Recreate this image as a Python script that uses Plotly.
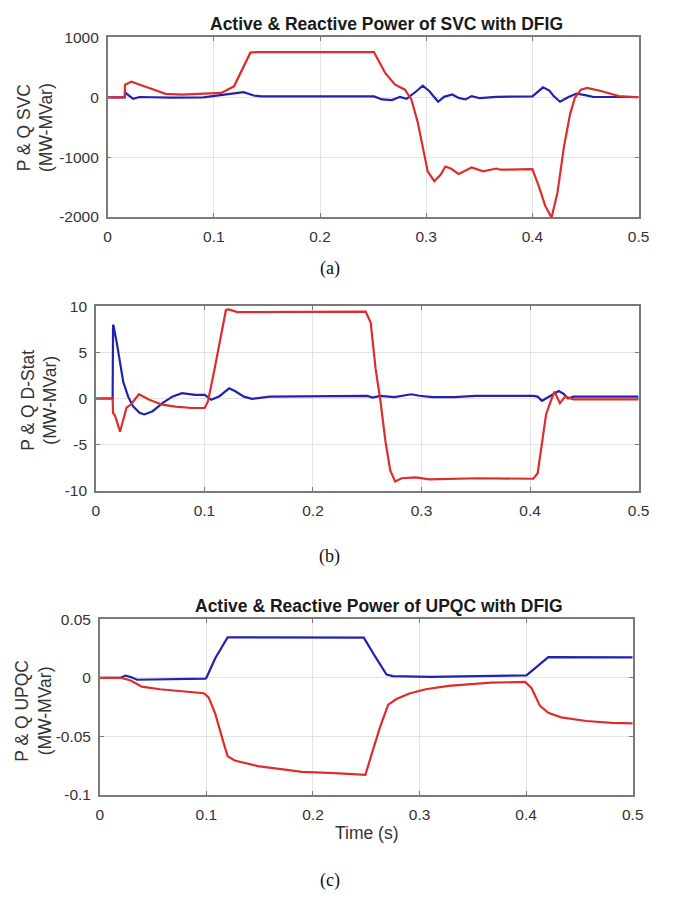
import plotly.graph_objects as go

W, H = 676, 899

# ---------------- data ----------------
x_ticks = [0, 0.1, 0.2, 0.3, 0.4, 0.5]
x_tick_labels = ["0", "0.1", "0.2", "0.3", "0.4", "0.5"]

# (a) SVC
svc_y_ticks = [-2000, -1000, 0, 1000]
svc_y_labels = ["-2000", "-1000", "0", "1000"]
svc_p_t = [0, 0.0160, 0.0163, 0.0224, 0.039, 0.0546, 0.070, 0.1007, 0.107, 0.119, 0.125, 0.1344, 0.14,
           0.2508, 0.2615, 0.2707, 0.28, 0.286, 0.292, 0.2968, 0.3014, 0.3076, 0.3137, 0.318, 0.3232,
           0.3306, 0.3428, 0.3536, 0.366, 0.370, 0.398, 0.400, 0.406, 0.412, 0.418, 0.4236, 0.4297,
           0.4355, 0.44, 0.4457, 0.4516, 0.4655, 0.4814, 0.5]
svc_p_v = [0, 0, 210, 260, 155, 57, 46, 74, 74, 183, 400, 746, 755,
           755, 402, 210, 128, -36, -418, -855, -1238, -1402, -1292, -1156, -1190,
           -1281, -1172, -1238, -1190, -1210, -1200, -1200, -1484, -1811, -2010, -1593, -828,
           -281, -8, 128, 156, 101, 20, 0]
svc_q_t = [0, 0.0160, 0.0168, 0.024, 0.03, 0.06, 0.09, 0.1007, 0.11, 0.128, 0.1375, 0.145,
           0.2508, 0.2584, 0.2677, 0.2753, 0.2815, 0.2907, 0.2968, 0.303, 0.3112, 0.3168, 0.3245,
           0.3306, 0.337, 0.3428, 0.3505, 0.366, 0.38, 0.40, 0.41, 0.416, 0.42, 0.426, 0.434,
           0.4417, 0.4497, 0.4576, 0.5]
svc_q_v = [0, 0, 75, -25, 5, -5, 0, 30, 46, 85, 30, 15,
           15, -36, -46, 8, -25, 101, 194, 101, -74, 8, 46,
           -10, -36, 20, -15, 8, 15, 15, 167, 113, 20, -74, 5,
           62, 36, 5, 5]

# (b) D-Stat
ds_y_ticks = [-10, -5, 0, 5, 10]
ds_y_labels = ["-10", "-5", "0", "5", "10"]
ds_p_t = [0, 0.0154, 0.0158, 0.0177, 0.0222, 0.0252, 0.0282, 0.0327, 0.0396, 0.0492, 0.0613, 0.0733,
          0.0883, 0.1003, 0.1033, 0.1093, 0.1153, 0.1198, 0.1225, 0.1303, 0.2486, 0.2532, 0.2577,
          0.2622, 0.2667, 0.2712, 0.2757, 0.2817, 0.295, 0.3072, 0.3523, 0.403, 0.407, 0.411,
          0.4148, 0.42, 0.4225, 0.4275, 0.4323, 0.44, 0.5]
ds_p_v = [0, 0, -1.56, -1.9, -3.6, -2.3, -1.0, -0.6, 0.46, -0.14, -0.67, -0.89,
          -1.03, -1.03, -0.3, 3.2, 7.1, 9.6, 9.65, 9.36, 9.43, 8.2, 3.2,
          -0.3, -4.6, -7.8, -9.0, -8.65, -8.55, -8.76, -8.65, -8.7, -8.1, -4.6,
          -1.7, 0.0, 0.75, -0.5, 0.2, -0.1, -0.1]
ds_q_t = [0, 0.0154, 0.0158, 0.0162, 0.0192, 0.0222, 0.0252, 0.0297, 0.0342, 0.0402, 0.0447,
          0.0523, 0.0613, 0.0703, 0.0793, 0.0913, 0.1003, 0.1063, 0.1138, 0.1228, 0.1288, 0.1363,
          0.1438, 0.16, 0.25, 0.255, 0.262, 0.275, 0.2907, 0.298, 0.31, 0.33, 0.35, 0.403, 0.407,
          0.411, 0.417, 0.4225, 0.4264, 0.431, 0.435, 0.44, 0.5]
ds_q_v = [0, 0, 8.0, 7.9, 6.06, 3.9, 1.8, 0.2, -0.85, -1.56, -1.73,
          -1.38, -0.5, 0.2, 0.57, 0.39, 0.39, -0.14, 0.25, 1.1, 0.75, 0.2,
          -0.03, 0.2, 0.28, 0.1, 0.28, 0.14, 0.46, 0.3, 0.14, 0.14, 0.28, 0.28, 0.2,
          -0.25, 0.2, 0.57, 0.82, 0.5, 0.0, 0.2, 0.2]

# (c) UPQC
up_y_ticks = [-0.1, -0.05, 0, 0.05]
up_y_labels = ["-0.1", "-0.05", "0", "0.05"]
up_p_t = [0, 0.0196, 0.029, 0.0333, 0.0394, 0.0563, 0.0716, 0.0976, 0.1021, 0.1083, 0.1144, 0.1199,
          0.1266, 0.148, 0.1755, 0.1896, 0.2202, 0.2492, 0.2554, 0.263, 0.2706, 0.2783, 0.2905,
          0.3058, 0.3272, 0.3456, 0.367, 0.399, 0.405, 0.413, 0.4208, 0.4328, 0.4565, 0.4803, 0.5]
up_p_v = [0, 0, -0.0023, -0.0042, -0.0076, -0.0098, -0.0112, -0.0132, -0.0168, -0.0307, -0.0503, -0.067,
          -0.0707, -0.0754, -0.0787, -0.0804, -0.0815, -0.0829, -0.0642, -0.0419, -0.023, -0.0182, -0.0134,
          -0.0098, -0.007, -0.0056, -0.0042, -0.0035, -0.0087, -0.024, -0.030, -0.0338, -0.0369, -0.0385, -0.039]
up_q_t = [0, 0.0196, 0.024, 0.029, 0.0349, 0.06, 0.0991, 0.1, 0.1083, 0.1199, 0.2477, 0.2584,
          0.269, 0.275, 0.31, 0.37, 0.4003, 0.4208, 0.5]
up_q_v = [0, 0, 0.0019, 0.0006, -0.0017, -0.0014, -0.0008, 0, 0.0167, 0.0345, 0.0343, 0.018,
          0.0028, 0.0014, 0.0008, 0.0017, 0.0020, 0.0176, 0.0175]

# ---------------- styling ----------------
RED = "#dd2c2c"
BLUE = "#2222b0"
AXC = "#7a7a7a"
GRID = "#e3e3e3"
TICKC = "#333333"
SANS = "Liberation Sans, Arial, sans-serif"
SERIF = "Liberation Serif, Times New Roman, serif"

def px_x(x):
    return x / W

def px_y(y):
    return 1 - y / H

panels = [
    # left, right, top, bottom (pixels)
    dict(box=(106, 649, 29, 212), yr=[-2000, 1000], yt=svc_y_ticks, yl=svc_y_labels,
         p=(svc_p_t, svc_p_v), q=(svc_q_t, svc_q_v)),
    dict(box=(94, 649, 303, 491), yr=[-10, 10], yt=ds_y_ticks, yl=ds_y_labels,
         p=(ds_p_t, ds_p_v), q=(ds_q_t, ds_q_v)),
    dict(box=(98, 643, 622, 801), yr=[-0.1, 0.05], yt=up_y_ticks, yl=up_y_labels,
         p=(up_p_t, up_p_v), q=(up_q_t, up_q_v)),
]

fig = go.Figure()
layout = dict(
    width=W, height=H, margin=dict(l=0, r=0, t=0, b=0),
    paper_bgcolor="white", plot_bgcolor="white", showlegend=False,
)

for i, pn in enumerate(panels, start=1):
    l, r, t, b = pn["box"]
    xa = "x" if i == 1 else f"x{i}"
    ya = "y" if i == 1 else f"y{i}"
    fig.add_trace(go.Scatter(x=pn["q"][0], y=pn["q"][1], mode="lines",
                             line=dict(color=BLUE, width=2.2), xaxis=xa, yaxis=ya))
    fig.add_trace(go.Scatter(x=pn["p"][0], y=pn["p"][1], mode="lines",
                             line=dict(color=RED, width=2.2), xaxis=xa, yaxis=ya))
    common = dict(showline=True, linecolor=AXC, linewidth=1.5, mirror="ticks",
                  ticks="inside", ticklen=4, tickcolor=AXC, tickwidth=1,
                  showgrid=True, gridcolor=GRID, gridwidth=1, zeroline=False,
                  tickfont=dict(family=SANS, size=15.5, color=TICKC), tickmode="array")
    layout["xaxis" if i == 1 else f"xaxis{i}"] = dict(
        common, domain=[px_x(l), px_x(r)], range=[0, 0.5],
        tickvals=x_ticks, ticktext=x_tick_labels, ticklabelstandoff=5,
        anchor=ya)
    layout["yaxis" if i == 1 else f"yaxis{i}"] = dict(
        common, domain=[px_y(b), px_y(t)], range=pn["yr"],
        tickvals=pn["yt"], ticktext=pn["yl"], ticklabelstandoff=4,
        anchor=xa)

fig.update_layout(**layout)

def ann(text, x, y, size, family=SANS, color="#222222", angle=0, bold=False):
    fig.add_annotation(text=f"<b>{text}</b>" if bold else text,
                       x=px_x(x), y=px_y(y), xref="paper", yref="paper",
                       xanchor="center", yanchor="middle", showarrow=False,
                       textangle=angle, font=dict(family=family, size=size, color=color))

# titles
ann("Active &amp; Reactive Power of SVC with DFIG", 391, 15, 17.5, bold=True, color="#1a1a1a")
ann("Active &amp; Reactive Power of UPQC with DFIG", 383, 608, 17.5, bold=True, color="#1a1a1a")
# y labels
ann("P &amp; Q SVC<br>(MW-MVar)", 32, 121, 17.5, angle=-90, color="#333333")
ann("P &amp; Q D-Stat<br>(MW-MVar)", 36, 399, 17.5, angle=-90, color="#333333")
ann("P &amp; Q UPQC<br>(MW-MVar)", 30, 715, 17.5, angle=-90, color="#333333")
# x label
ann("Time (s)", 371, 840, 17.5, color="#333333")
# captions
ann("(a)", 333, 265, 18, family=SERIF, color="#111111")
ann("(b)", 333, 558, 18, family=SERIF, color="#111111")
ann("(c)", 333, 888, 18, family=SERIF, color="#111111")

fig.write_html("out.html", config={"displayModeBar": False},
               post_script="document.body.style.margin='0';document.body.style.overflow='hidden';")
